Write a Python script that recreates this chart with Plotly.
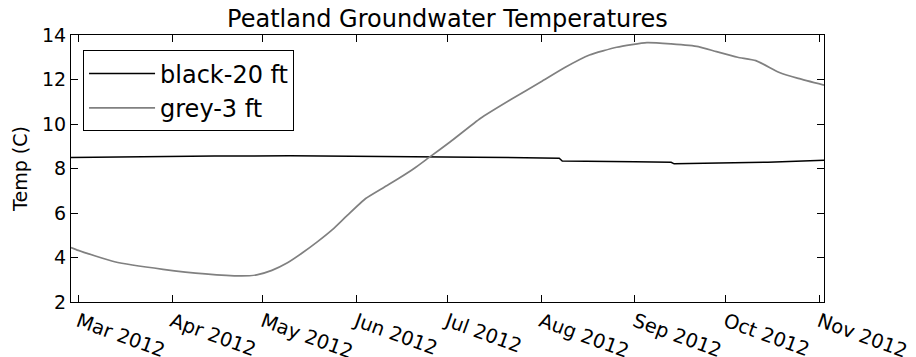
import plotly.graph_objects as go

# ---- data ----
black_dates = ["2012-02-27 14:00", "2012-03-15", "2012-04-15", "2012-05-10", "2012-06-10",
               "2012-07-10", "2012-08-07", "2012-08-08", "2012-09-01", "2012-09-13",
               "2012-09-14", "2012-10-01", "2012-10-15", "2012-11-02 13:00"]
black_vals = [8.50, 8.53, 8.56, 8.57, 8.55, 8.51, 8.46, 8.34, 8.30, 8.28,
              8.21, 8.24, 8.28, 8.37]

grey_dates = ["2012-02-27 14:00", "2012-03-01", "2012-03-13", "2012-03-29", "2012-04-12",
              "2012-04-24", "2012-04-29", "2012-05-04", "2012-05-09", "2012-05-14",
              "2012-05-19", "2012-05-24", "2012-05-29", "2012-06-04", "2012-06-10",
              "2012-06-15", "2012-06-20", "2012-06-25", "2012-07-02", "2012-07-12",
              "2012-07-22", "2012-08-01", "2012-08-09", "2012-08-17", "2012-08-26",
              "2012-09-05", "2012-09-13", "2012-09-22", "2012-09-28", "2012-10-05",
              "2012-10-11", "2012-10-19", "2012-10-25", "2012-11-02 13:00"]
grey_vals = [4.45, 4.32, 3.81, 3.47, 3.26,
             3.17, 3.22, 3.42, 3.75, 4.2,
             4.7, 5.25, 5.9, 6.65, 7.15,
             7.56, 8.0, 8.5, 9.2, 10.26,
             11.1, 11.9, 12.55, 13.1, 13.45,
             13.66, 13.6, 13.48, 13.25, 13.0,
             12.85, 12.3, 12.05, 11.75]

series_names = ["black-20 ft", "grey-3 ft"]
title_text = "Peatland Groundwater Temperatures"
y_title = "Temp (C)"
x_range = ["2012-02-27 14:00", "2012-11-02 13:00"]
y_range = [2, 14]

FONT = "DejaVu Sans"

fig = go.Figure()
fig.add_trace(go.Scatter(x=black_dates, y=black_vals, mode="lines", name=series_names[0],
                         legendgroup="a", line=dict(color="black", width=1.5)))
fig.add_trace(go.Scatter(x=grey_dates, y=grey_vals, mode="lines", name=series_names[1],
                         legendgroup="b", line=dict(color="#808080", width=1.7,
                                                    shape="spline", smoothing=0.5)))

# the page body adds an 8px offset; margins compensate for it
fig.update_layout(
    width=916, height=357,
    margin=dict(l=63, r=100, t=27, b=63, autoexpand=False),
    paper_bgcolor="white", plot_bgcolor="white",
    font=dict(family=FONT, color="black", size=19),
    title=dict(text=title_text, x=0.5, xref="paper", xanchor="center",
               y=1 - 11 / 357, yref="container", yanchor="middle",
               font=dict(family=FONT, size=24, color="black")),
    showlegend=True,
    legend=dict(x=0.016, y=0.942, xanchor="left", yanchor="top",
                bordercolor="black", borderwidth=1, bgcolor="white",
                font=dict(family=FONT, size=24, color="black"),
                tracegroupgap=0, itemwidth=66, traceorder="grouped"),
)
fig.update_xaxes(range=x_range, type="date", tickformat="%b %Y", dtick="M1",
                 tick0="2012-03-01", tickangle=20, ticks="inside", ticklen=7,
                 tickcolor="black", showline=True, linecolor="black", linewidth=1,
                 mirror="ticks", showgrid=False, zeroline=False, automargin=False,
                 tickfont=dict(family=FONT, size=19.5, color="black"))
fig.update_yaxes(range=y_range, dtick=2, ticks="inside", ticklen=7, tickcolor="black",
                 showline=True, linecolor="black", linewidth=1, mirror="ticks",
                 showgrid=False, zeroline=False, automargin=False,
                 title=dict(text=y_title, font=dict(family=FONT, size=19, color="black"),
                            standoff=9),
                 tickfont=dict(family=FONT, size=19, color="black"))

fig.write_html("out.html")
